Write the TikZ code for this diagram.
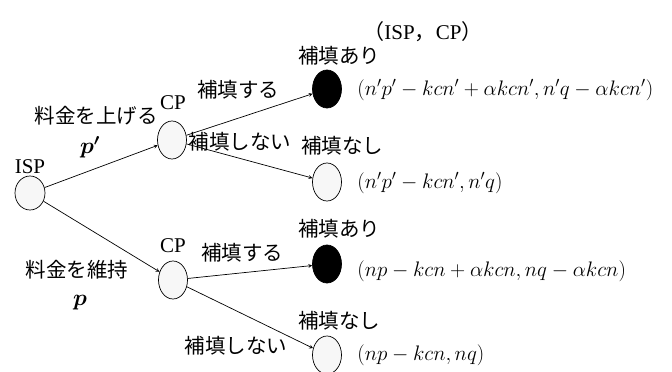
\documentclass[tikz,border=0pt]{standalone}
\usepackage{fix-cm}
\usepackage{bm}
\usepackage{fontspec}
\setmainfont{Liberation Serif}
\newfontfamily\jp{Noto Sans CJK JP}
\usetikzlibrary{shapes.geometric}

\tikzset{
  choice/.style={ellipse, draw, fill=gray!6, minimum width=29pt, minimum height=38pt, inner sep=0pt},
  filled/.style={choice, fill=black},
  jlab/.style={font=\jp\fontsize{20.5}{24}\selectfont, inner sep=0pt},
  plab/.style={font=\fontsize{21}{24}\selectfont, inner sep=0pt},
  pay/.style={anchor=west, inner sep=0pt, font=\fontsize{21}{24}\selectfont}
}

\begin{document}
\begin{tikzpicture}[x=1pt, y=-1pt, line width=0.7pt, >=stealth, line join=round]
\useasboundingbox (0,0) rectangle (672,372);
% decision nodes
\node[choice, minimum width=30pt, minimum height=34pt] (isp) at (30,193) {};
\node[choice] (cpa) at (172,140) {};
\node[choice] (cpb) at (173,280) {};
% end nodes
\node[filled] (aa) at (327,89) {};
\node[choice] (an) at (327,182) {};
\node[filled] (ba) at (327,264) {};
\node[choice] (bn) at (327,355) {};
% players
\node[plab] (ispname) at (30,167) {ISP};
\node[plab] (cpaname) at (173,103) {CP};
\node[plab] (cpbname) at (173,246) {CP};
\node[plab] (head) at (423,32) {{\jp （}ISP{\jp ，}CP{\jp ）}};
% moves
\draw[->] (isp) -- (cpa);
\draw[->] (isp) -- (cpb);
\draw[->] (cpa) -- (aa);
\draw[->] (cpa) -- (an);
\draw[->] (cpb) -- (ba);
\draw[->] (cpb) -- (bn);
\node[jlab] (up) at (96,116) {料金を上げる};
\node[plab, font=\fontsize{23}{26}\selectfont] (upp) at (90,147) {$\bm{p'}$};
\node[jlab] (keep) at (77,270) {料金を維持};
\node[plab, font=\fontsize{23}{26}\selectfont] (keepp) at (80,303) {$\bm{p}$};
\node[jlab] (pa) at (238,90) {補填する};
\node[jlab] (pan) at (240,142) {補填しない};
\node[jlab] (pb) at (242,253) {補填する};
\node[jlab] (pbn) at (236,346) {補填しない};
% outcomes
\node[jlab] (aalbl) at (339,56) {補填あり};
\node[jlab] (anlbl) at (342,146) {補填なし};
\node[jlab] (balbl) at (339,229) {補填あり};
\node[jlab] (bnlbl) at (339,321) {補填なし};
\node[pay] (aapay) at (357,90) {$(n'p'-kcn'+\alpha kcn', n'q-\alpha kcn')$};
\node[pay] (anpay) at (357,183) {$(n'p'-kcn', n'q)$};
\node[pay] (bapay) at (357,271) {$(np-kcn+\alpha kcn, nq-\alpha kcn)$};
\node[pay] (bnpay) at (357,355) {$(np-kcn, nq)$};
\end{tikzpicture}
\end{document}
